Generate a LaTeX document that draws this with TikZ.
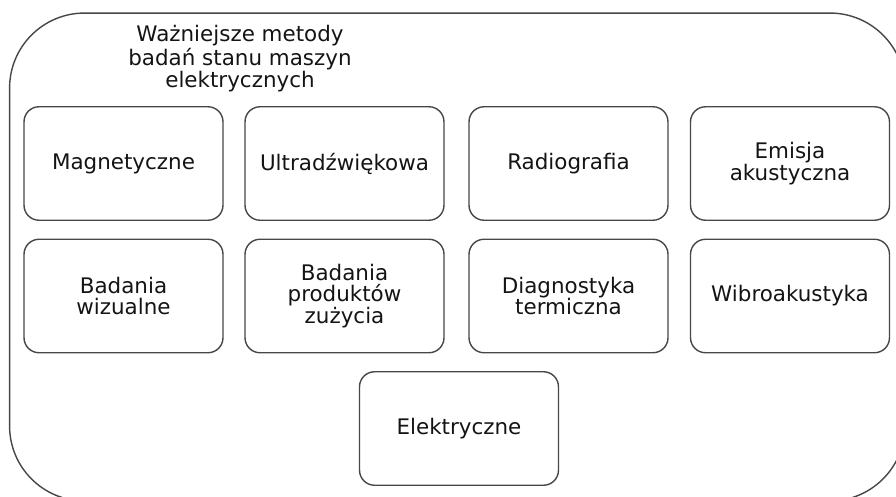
\documentclass[tikz,border=0pt]{standalone}
\usepackage{fontspec}
\setmainfont{DejaVu Sans}
\usepackage{xcolor}
\usetikzlibrary{positioning}
\tikzset{
  methodbox/.style={
    draw=black!72, line width=0.8pt, rounded corners=0.3cm, align=center,
    font=\fontsize{12.2}{12.2}\selectfont, fill=white, inner sep=0pt,
    minimum width=3.98cm, minimum height=2.27cm, text=black!92
  },
  framebox/.style={
    draw=black!72, line width=0.8pt, rounded corners=1.5cm,
    minimum width=17.91cm, minimum height=9.76cm, inner sep=0pt
  },
  titlelabel/.style={
    align=center, font=\fontsize{12.2}{11}\selectfont, text=black!92
  },
}

\begin{document}
\begin{tikzpicture}[x=0.02cm, y=-0.02cm]
  \useasboundingbox (0,0) rectangle (896,497);
  \clip (0,0) rectangle (896,497);

  % ── Outer container ────────────────────────────────────────────
  \node[framebox] (frame) at (457.25, 257) {};
  \node[titlelabel] (title) at (240, 59)
    {Ważniejsze metody\\badań stanu maszyn\\elektrycznych};

  % ── First row ──────────────────────────────────────────────────
  \node[methodbox] (magn)   at (123.5, 163.5) {Magnetyczne};
  \node[methodbox] (ultra)  at (344.5, 163.5) {Ultradźwiękowa};
  \node[methodbox] (radio)  at (568.5, 163.5) {Radiografia};
  \node[methodbox] (emisja) at (790, 163.5) {Emisja\\akustyczna};

  % ── Second row ─────────────────────────────────────────────────
  \node[methodbox] (wizual)  at (123.5, 296) {Badania\\wizualne};
  \node[methodbox] (zuzycie) at (344.5, 296) {Badania\\produktów\\zużycia};
  \node[methodbox] (termo)   at (568.5, 296) {Diagnostyka\\termiczna};
  \node[methodbox] (wibro)   at (790, 296) {Wibroakustyka};

  % ── Third row ──────────────────────────────────────────────────
  \node[methodbox] (elektr) at (459, 428.5) {Elektryczne};
\end{tikzpicture}
\end{document}
